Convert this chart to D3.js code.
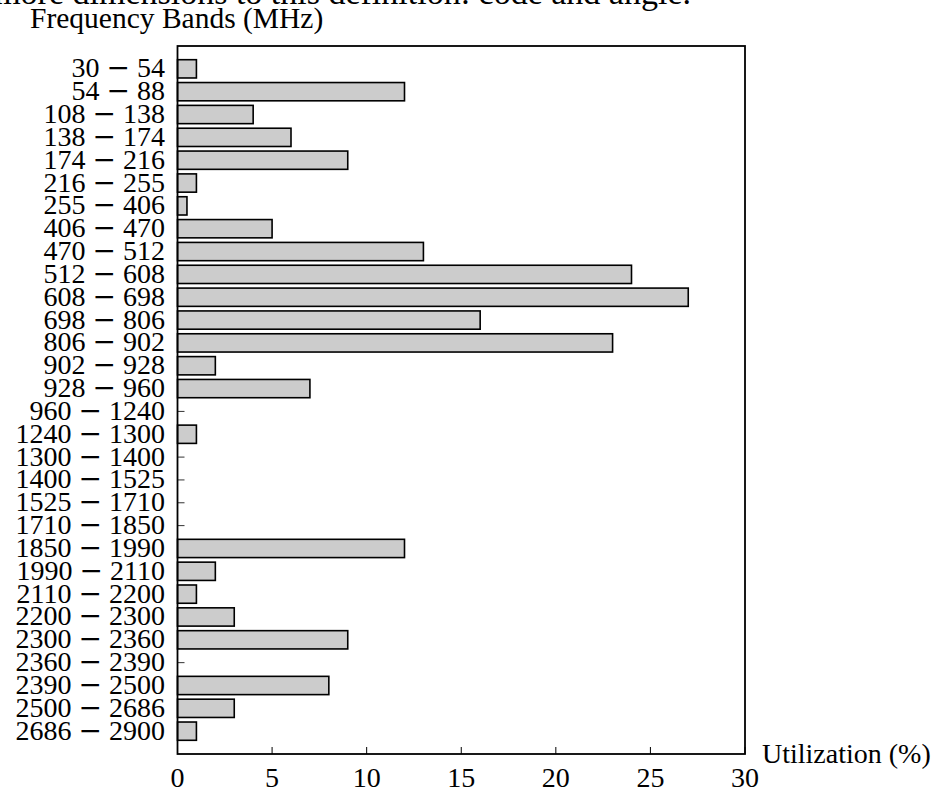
<!DOCTYPE html>
<html>
<head>
<meta charset="utf-8">
<script src="https://cdn.jsdelivr.net/npm/d3@7/dist/d3.min.js"></script>
<style>
  html, body { margin: 0; padding: 0; background: #fff; }
  svg { display: block; }
  text { font-family: "Liberation Serif", "Times New Roman", serif; fill: #000; }
  .minus { font-family: "DejaVu Serif", serif; }
</style>
</head>
<body>
<svg id="chart" width="941" height="792"></svg>
<script>
// Frequency bands (MHz), top to bottom
const bands = [
  ["30", "54"], ["54", "88"], ["108", "138"], ["138", "174"], ["174", "216"],
  ["216", "255"], ["255", "406"], ["406", "470"], ["470", "512"], ["512", "608"],
  ["608", "698"], ["698", "806"], ["806", "902"], ["902", "928"], ["928", "960"],
  ["960", "1240"], ["1240", "1300"], ["1300", "1400"], ["1400", "1525"], ["1525", "1710"],
  ["1710", "1850"], ["1850", "1990"], ["1990", "2110"], ["2110", "2200"], ["2200", "2300"],
  ["2300", "2360"], ["2360", "2390"], ["2390", "2500"], ["2500", "2686"], ["2686", "2900"]
];

// Utilization per band (%)
const utilization = [
  1, 12, 4, 6, 9,
  1, 0.5, 5, 13, 24,
  27, 16, 23, 2, 7,
  0, 1, 0, 0, 0,
  0, 12, 2, 1, 3,
  9, 0, 8, 3, 1
];

const xTicks = [0, 5, 10, 15, 20, 25, 30];
const xMax = 30;

const bandLabels = bands.map(b => b[0] + " \u2212 " + b[1]);
const data = bandLabels.map((label, i) => ({ label, band: bands[i], value: utilization[i] }));

const svg = d3.select("#chart");
const plotLeft = 177.5, plotRight = 745, plotTop = 46, plotBottom = 754;

const x = d3.scaleLinear().domain([0, xMax]).range([plotLeft, plotRight]);
const y = d3.scaleBand()
  .domain(bandLabels)
  .range([plotTop, plotBottom])
  .paddingInner(0.2)
  .paddingOuter(0.6);

// running text of the page above the figure
svg.append("text")
  .attr("x", 691).attr("y", 4)
  .attr("text-anchor", "end")
  .style("font-size", "34px")
  .text("more dimensions to this definition: code and angle.");

// y axis title
svg.append("text")
  .attr("x", 30).attr("y", 28)
  .style("font-size", "29.5px")
  .text("Frequency Bands (MHz)");

// x axis title
svg.append("text")
  .attr("x", 762).attr("y", 763)
  .style("font-size", "28px")
  .text("Utilization (%)");

// inward y ticks (hidden behind bars where value > 0)
svg.append("g")
  .selectAll("line")
  .data(bandLabels)
  .join("line")
  .attr("x1", plotLeft).attr("x2", plotLeft + 7)
  .attr("y1", d => y(d) + y.bandwidth() / 2)
  .attr("y2", d => y(d) + y.bandwidth() / 2)
  .attr("stroke", "#333")
  .attr("stroke-width", 1);

// inward x ticks
svg.append("g")
  .selectAll("line")
  .data(xTicks)
  .join("line")
  .attr("x1", d => x(d)).attr("x2", d => x(d))
  .attr("y1", plotBottom).attr("y2", plotBottom - 7)
  .attr("stroke", "#000")
  .attr("stroke-width", 1);

// bars
svg.append("g")
  .selectAll("rect")
  .data(data.filter(d => d.value > 0))
  .join("rect")
  .attr("x", x(0))
  .attr("y", d => y(d.label))
  .attr("width", d => x(d.value) - x(0))
  .attr("height", y.bandwidth())
  .attr("fill", "#cccccc")
  .attr("stroke", "#000")
  .attr("stroke-width", 1.6);

// frame
svg.append("rect")
  .attr("x", plotLeft).attr("y", plotTop)
  .attr("width", plotRight - plotLeft).attr("height", plotBottom - plotTop)
  .attr("fill", "none")
  .attr("stroke", "#000")
  .attr("stroke-width", 1.8);

// y tick labels: "lo − hi", minus drawn wide like a math operator
const yLabels = svg.append("g")
  .selectAll("text")
  .data(data)
  .join("text")
  .attr("x", 165)
  .attr("y", d => y(d.label) + y.bandwidth() / 2 + 8.5)
  .attr("text-anchor", "end")
  .style("font-size", "28px");
yLabels.append("tspan").text(d => d.band[0] + " ");
yLabels.append("tspan").attr("class", "minus").style("font-weight", "200").text("\u2212");
yLabels.append("tspan").text(d => " " + d.band[1]);

// x tick labels
svg.append("g")
  .selectAll("text")
  .data(xTicks)
  .join("text")
  .attr("x", d => x(d))
  .attr("y", 787)
  .attr("text-anchor", "middle")
  .style("font-size", "28px")
  .text(d => d);
</script>
</body>
</html>
